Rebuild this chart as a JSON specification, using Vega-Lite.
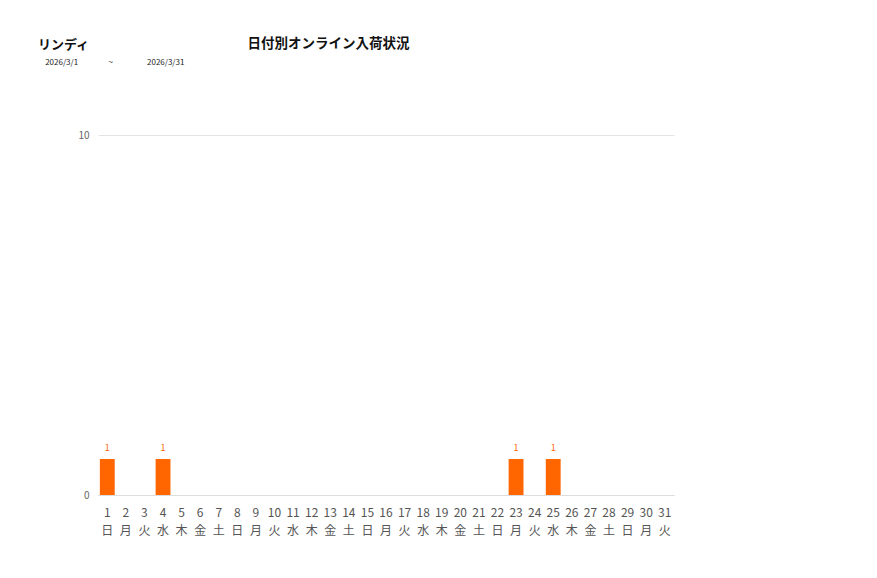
{
  "$schema": "https://vega.github.io/schema/vega-lite/v6.json",
  "width": 576,
  "height": 360,
  "autosize": {"type": "none"},
  "padding": {"left": 98, "top": 135, "right": 203, "bottom": 83},
  "background": "white",
  "config": {
    "view": {"stroke": null},
    "font": "Noto Sans CJK JP"
  },
  "title": {
    "text": "リンディ",
    "subtitle": "\u200b\u00a0\u00a0\u00a0\u00a02026/3/1\u00a0\u00a0\u00a0\u00a0\u00a0\u00a0\u00a0\u00a0\u00a0\u00a0\u00a0\u00a0\u00a0\u00a0\u00a0\u00a0\u00a0~\u00a0\u00a0\u00a0\u00a0\u00a0\u00a0\u00a0\u00a0\u00a0\u00a0\u00a0\u00a0\u00a0\u00a0\u00a0\u00a0\u00a0\u00a0\u00a02026/3/31",
    "anchor": "start",
    "frame": "group",
    "dx": -60,
    "offset": -31,
    "fontSize": 13,
    "fontWeight": "bold",
    "color": "#111111",
    "subtitleFontSize": 8,
    "subtitleColor": "#222222",
    "subtitlePadding": 7,
    "font": "Noto Sans CJK JP",
    "subtitleFont": "Noto Sans CJK JP"
  },
  "data": {
    "values": [
      {"label": "1|日", "count": 1},
      {"label": "2|月", "count": 0},
      {"label": "3|火", "count": 0},
      {"label": "4|水", "count": 1},
      {"label": "5|木", "count": 0},
      {"label": "6|金", "count": 0},
      {"label": "7|土", "count": 0},
      {"label": "8|日", "count": 0},
      {"label": "9|月", "count": 0},
      {"label": "10|火", "count": 0},
      {"label": "11|水", "count": 0},
      {"label": "12|木", "count": 0},
      {"label": "13|金", "count": 0},
      {"label": "14|土", "count": 0},
      {"label": "15|日", "count": 0},
      {"label": "16|月", "count": 0},
      {"label": "17|火", "count": 0},
      {"label": "18|水", "count": 0},
      {"label": "19|木", "count": 0},
      {"label": "20|金", "count": 0},
      {"label": "21|土", "count": 0},
      {"label": "22|日", "count": 0},
      {"label": "23|月", "count": 1},
      {"label": "24|火", "count": 0},
      {"label": "25|水", "count": 1},
      {"label": "26|木", "count": 0},
      {"label": "27|金", "count": 0},
      {"label": "28|土", "count": 0},
      {"label": "29|日", "count": 0},
      {"label": "30|月", "count": 0},
      {"label": "31|火", "count": 0}
    ]
  },
  "encoding": {
    "x": {
      "field": "label",
      "type": "ordinal",
      "sort": null,
      "scale": {"paddingInner": 0.2, "paddingOuter": 0.1},
      "axis": {
        "title": null,
        "labelAngle": 0,
        "labelExpr": "split(datum.label, '|')",
        "labelFontSize": 12,
        "labelColor": "#555555",
        "labelLineHeight": 18,
        "labelPadding": 12,
        "labelBaseline": "top",
        "ticks": false,
        "domain": true,
        "domainColor": "#dddddd",
        "labelFont": "Noto Sans CJK JP"
      }
    },
    "y": {
      "field": "count",
      "type": "quantitative",
      "scale": {"domain": [0, 10]},
      "axis": {
        "values": [0, 10],
        "domain": false,
        "ticks": false,
        "gridColor": "#e4e4e4",
        "labelFontSize": 10,
        "labelColor": "#666666",
        "labelPadding": 9,
        "title": "日付別オンライン入荷状況",
        "titleAngle": 0,
        "titleAlign": "left",
        "titleBaseline": "middle",
        "titleX": 149,
        "titleY": -92,
        "titleFontSize": 13.5,
        "titleFontWeight": "bold",
        "titleColor": "#111111",
        "titleFont": "Noto Sans CJK JP"
      }
    }
  },
  "layer": [
    {
      "mark": {"type": "bar", "color": "#FF6600"}
    },
    {
      "transform": [{"filter": "datum.count > 0"}],
      "mark": {"type": "text", "color": "#FF6600", "fontSize": 9, "dy": -11, "font": "Noto Sans CJK JP"},
      "encoding": {"text": {"field": "count", "type": "quantitative"}}
    }
  ]
}
